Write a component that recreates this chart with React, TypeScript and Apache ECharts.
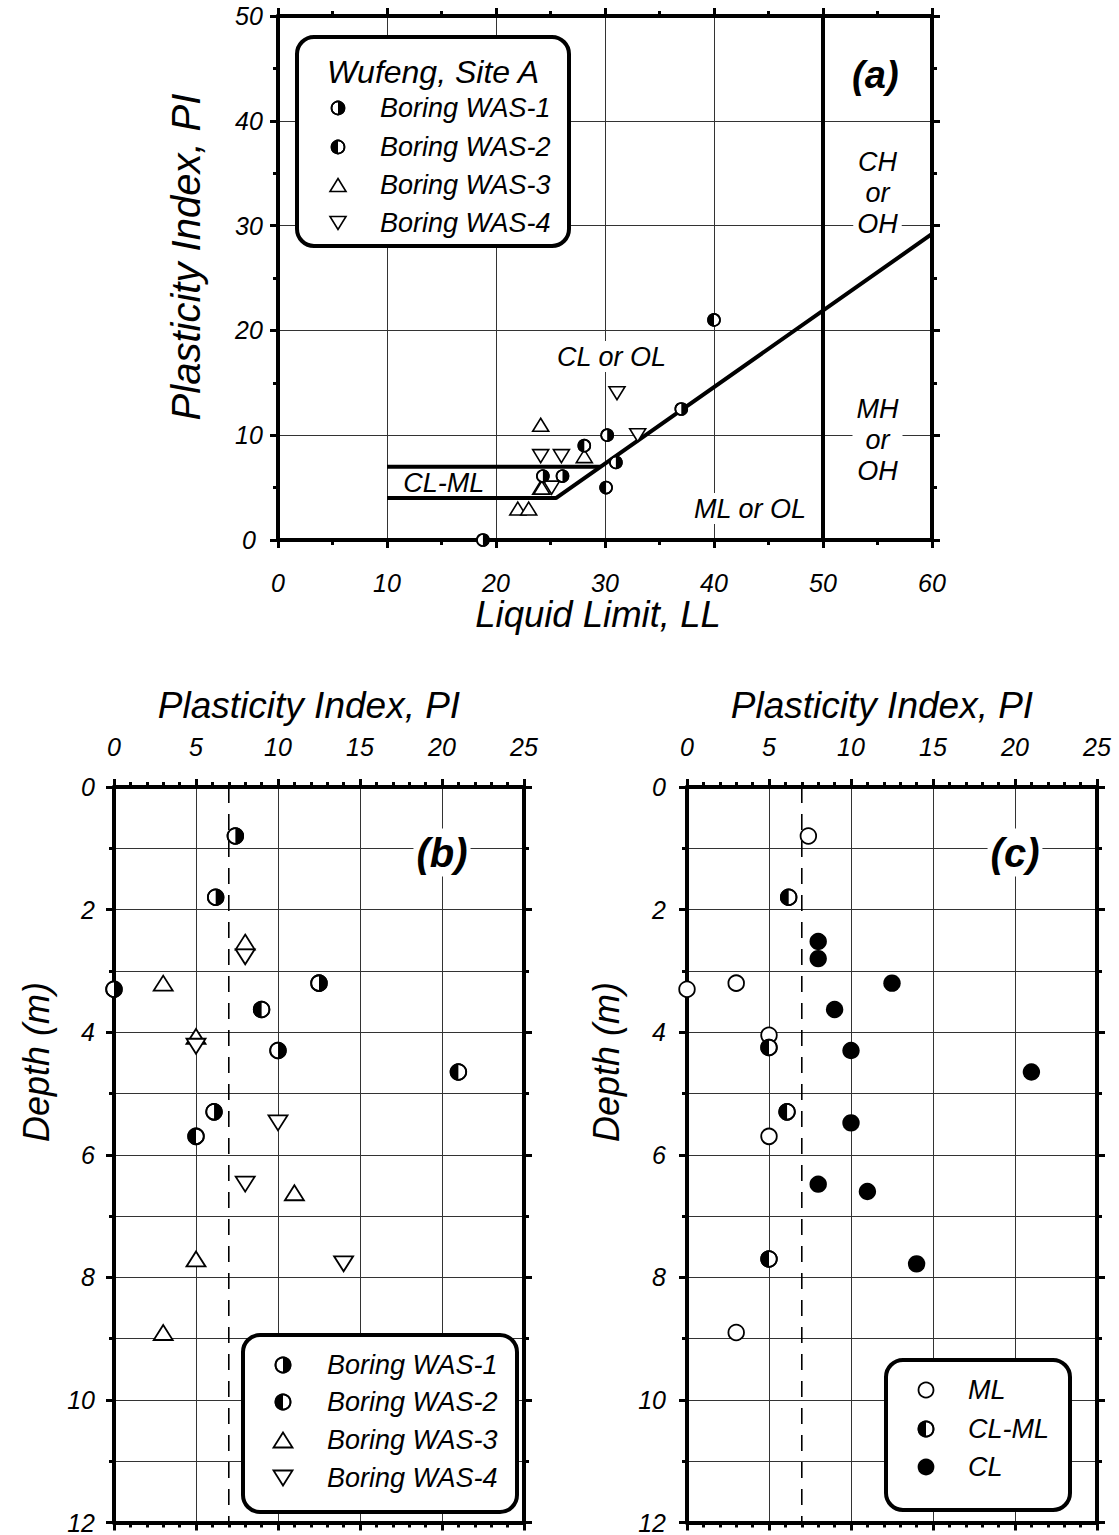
import React, { useEffect, useRef } from 'react';
import * as echarts from 'echarts';

// ---------- DATA ----------
// Panel (a): [Liquid Limit LL, Plasticity Index PI]
const aWas1: number[][] = [[18.8, 0], [31.0, 7.4], [24.3, 6.1], [26.1, 6.1], [37.0, 12.5], [30.2, 10.0]];
const aWas2: number[][] = [[28.1, 9.0], [30.1, 5.0], [40.0, 21.0]];
const aWas3: number[][] = [[24.1, 11.0], [28.1, 8.0], [24.1, 5.0], [24.2, 5.0], [22.0, 3.0], [23.0, 3.0]];
const aWas4: number[][] = [[24.1, 8.0], [26.0, 8.0], [31.1, 14.0], [33.0, 10.0], [25.1, 5.0]];

// Panel (b): [PI, depth (m)]
const bWas1: number[][] = [[7.4, 0.8], [6.2, 1.8], [0, 3.3], [12.5, 3.2], [10, 4.3], [6.1, 5.3]];
const bWas2: number[][] = [[9, 3.63], [21, 4.65], [5, 5.7]];
const bWas3: number[][] = [[8, 2.53], [3, 3.2], [5, 4.07], [11, 6.62], [5, 7.7], [3, 8.9]];
const bWas4: number[][] = [[8, 2.77], [5, 4.23], [10, 5.48], [8, 6.48], [14, 7.78]];

// Panel (c): [PI, depth (m)] by USCS class
const cML: number[][] = [[7.4, 0.8], [0, 3.3], [3, 3.2], [5, 4.05], [5, 5.7], [3, 8.9]];
const cCLML: number[][] = [[6.2, 1.8], [5, 4.25], [6.1, 5.3], [5, 7.7]];
const cCL: number[][] = [[8, 2.52], [8, 2.8], [12.5, 3.2], [9, 3.63], [10, 4.3], [21, 4.65], [10, 5.48], [8, 6.48], [11, 6.6], [14, 7.78]];

// Chart boundary lines (plasticity chart)
const clmlUpper: number[][] = [[10, 7], [29.6, 7]];
const clmlLowerAndALine: number[][] = [[10, 4], [25.5, 4], [60, 29.2]];
const llFifty: number[][] = [[50, 0], [50, 50]];
const piSeven: number[][] = [[7, 0], [7, 12]];

// Axis ranges / ticks
const llTicks = [0, 10, 20, 30, 40, 50, 60];
const piTicksA = [0, 10, 20, 30, 40, 50];
const piTicksB = [0, 5, 10, 15, 20, 25];
const depthTicks = [0, 2, 4, 6, 8, 10, 12];

const boringNames = ['Boring WAS-1', 'Boring WAS-2', 'Boring WAS-3', 'Boring WAS-4'];
const classNames = ['ML', 'CL-ML', 'CL'];

// ---------- STYLE HELPERS ----------
const FONT = '"Liberation Sans", Arial, sans-serif';
const f = (size: number, bold = false) => `italic ${bold ? 'bold ' : ''}${size}px ${FONT}`;

type MS = { r: number; lw: number; tw: number; th: number };
const S_A: MS = { r: 6.0, lw: 1.6, tw: 16, th: 13 };
const S_B: MS = { r: 7.8, lw: 1.8, tw: 19, th: 15 };

function markerEls(kind: string, x: number, y: number, s: MS): any[] {
  const ring = { type: 'circle', shape: { cx: x, cy: y, r: s.r }, style: { fill: '#fff', stroke: '#000', lineWidth: s.lw } };
  const outline = { type: 'circle', shape: { cx: x, cy: y, r: s.r }, style: { fill: 'none', stroke: '#000', lineWidth: s.lw } };
  if (kind === 'open') return [ring];
  if (kind === 'filled') return [{ type: 'circle', shape: { cx: x, cy: y, r: s.r + s.lw / 2 }, style: { fill: '#000' } }];
  if (kind === 'halfRight' || kind === 'halfLeft') {
    const a0 = kind === 'halfRight' ? -Math.PI / 2 : Math.PI / 2;
    return [
      ring,
      { type: 'sector', shape: { cx: x, cy: y, r0: 0, r: s.r, startAngle: a0, endAngle: a0 + Math.PI, clockwise: true }, style: { fill: '#000' } },
      outline,
    ];
  }
  const hw = s.tw / 2, hh = s.th / 2;
  const pts = kind === 'triUp'
    ? [[x, y - hh], [x + hw, y + hh], [x - hw, y + hh]]
    : [[x - hw, y - hh], [x + hw, y - hh], [x, y + hh]];
  return [{ type: 'polygon', shape: { points: pts }, style: { fill: '#fff', stroke: '#000', lineWidth: s.lw, lineJoin: 'miter' } }];
}

// axis: index of the x/y axis pair that carries the data of the panel
function markerSeries(name: string, data: number[][], kind: string, axis: number, s: MS) {
  return {
    type: 'custom', name, xAxisIndex: axis, yAxisIndex: axis, data, z: 10, clip: false, silent: true,
    encode: { x: 0, y: 1 },
    renderItem: (_p: any, api: any) => {
      const pt = api.coord([api.value(0), api.value(1)]);
      return { type: 'group', children: markerEls(kind, pt[0], pt[1], s) };
    },
  };
}

type Ann = { x: number; y: number; text: string; font: string; bg: boolean; lh?: number; pad?: number[] };
function textSeries(axis: number, items: Ann[]) {
  return {
    type: 'custom', xAxisIndex: axis, yAxisIndex: axis, z: 8, clip: false, silent: true,
    data: items.map((it) => [it.x, it.y]),
    encode: { x: 0, y: 1 },
    renderItem: (params: any, api: any) => {
      const it = items[params.dataIndex];
      const pt = api.coord([api.value(0), api.value(1)]);
      const style: any = {
        text: it.text, font: it.font, fill: '#000',
        align: 'center', verticalAlign: 'middle', textAlign: 'center', textVerticalAlign: 'middle',
      };
      if (it.lh) style.lineHeight = it.lh;
      if (it.bg) { style.backgroundColor = '#fff'; style.padding = it.pad || [2, 4]; }
      return { type: 'text', x: pt[0], y: pt[1], style };
    },
  };
}

function lineSeries(data: number[][], axis: number, width: number, dashed = false) {
  return {
    type: 'line', xAxisIndex: axis, yAxisIndex: axis, data, symbol: 'none', silent: true, z: 3,
    lineStyle: { color: '#000', width, type: dashed ? [16, 11] : 'solid' },
  };
}

const axisLine = { show: true, onZero: false, lineStyle: { color: '#000', width: 4 } };
const tick = { show: true, length: 8, lineStyle: { color: '#000', width: 3 } };
const minor = (n: number) => ({ show: true, splitNumber: n, length: 5, lineStyle: { color: '#000', width: 3 } });
const grid1 = { show: true, lineStyle: { color: '#333', width: 1 } };
const labelStyle = (margin: number, align?: string) => {
  const s: any = { show: true, margin, fontSize: 25, fontStyle: 'italic', fontFamily: FONT, color: '#000' };
  if (align) s.align = align;
  return s;
};
const rng = (t: number[]) => ({ min: t[0], max: t[t.length - 1], interval: t[1] - t[0] });

function valueAxis(gridIndex: number, position: string, ticks: number[], minorN: number, label: any, split: boolean, extra: any = {}) {
  return {
    type: 'value', gridIndex, position, ...rng(ticks),
    axisLine, axisTick: tick, minorTick: minor(minorN),
    axisLabel: label || { show: false },
    splitLine: split ? grid1 : { show: false },
    ...extra,
  };
}

function legendBox(x: number, y: number, w: number, h: number) {
  return { type: 'rect', z: 100, shape: { x, y, width: w, height: h, r: 17 }, style: { fill: '#fff', stroke: '#000', lineWidth: 4 } };
}
function gText(x: number, y: number, text: string, font: string, align = 'left', rotation = 0) {
  return {
    type: 'text', z: 102, x, y, rotation,
    style: { text, font, fill: '#000', align, verticalAlign: 'middle', textAlign: align, textVerticalAlign: 'middle' },
  };
}
function gMarker(kind: string, x: number, y: number, s: MS) {
  return markerEls(kind, x, y, s).map((e) => ({ ...e, z: 101 }));
}

// axis indices: panel (a) -> 0, panel (b) -> 2, panel (c) -> 4
const AX_A = 0, AX_B = 2, AX_C = 4;

function buildOption() {
  const kindsBoring = ['halfRight', 'halfLeft', 'triUp', 'triDown'];
  const graphics: any[] = [];

  // axis titles
  graphics.push(gText(598, 614, 'Liquid Limit, LL', f(36.5), 'center'));
  graphics.push(gText(186, 257, 'Plasticity Index, PI', f(40), 'center', Math.PI / 2));
  graphics.push(gText(309, 705, 'Plasticity Index, PI', f(37), 'center'));
  graphics.push(gText(882, 705, 'Plasticity Index, PI', f(37), 'center'));
  graphics.push(gText(36, 1062, 'Depth (m)', f(36), 'center', Math.PI / 2));
  graphics.push(gText(606, 1062, 'Depth (m)', f(36), 'center', Math.PI / 2));

  // legend (a)
  graphics.push(legendBox(297, 37, 272, 209));
  graphics.push(gText(433, 72, 'Wufeng, Site A', f(32), 'center'));
  const rowsA = [108, 147, 185, 223];
  boringNames.forEach((n, i) => {
    graphics.push(...gMarker(kindsBoring[i], 338, rowsA[i], { r: 6.5, lw: 1.6, tw: 16, th: 13 }));
    graphics.push(gText(380, rowsA[i], n, f(27)));
  });

  // legend (b)
  graphics.push(legendBox(243, 1335, 274, 177));
  const rowsB = [1365, 1402, 1440, 1478];
  boringNames.forEach((n, i) => {
    graphics.push(...gMarker(kindsBoring[i], 283, rowsB[i], { r: 7.5, lw: 1.8, tw: 19, th: 15 }));
    graphics.push(gText(327, rowsB[i], n, f(27)));
  });

  // legend (c)
  graphics.push(legendBox(886, 1360, 184, 150));
  const rowsC = [1390, 1429, 1467];
  const kindsC = ['open', 'halfLeft', 'filled'];
  classNames.forEach((n, i) => {
    graphics.push(...gMarker(kindsC[i], 926, rowsC[i], { r: 7.5, lw: 1.8, tw: 19, th: 15 }));
    graphics.push(gText(968, rowsC[i], n, f(27)));
  });

  return {
    animation: false,
    backgroundColor: '#fff',
    grid: [
      { left: 278, top: 16, width: 654, height: 524 },
      { left: 114, top: 787, width: 410, height: 737 },
      { left: 687, top: 787, width: 410, height: 737 },
    ],
    xAxis: [
      valueAxis(0, 'bottom', llTicks, 2, labelStyle(30), true),
      valueAxis(0, 'top', llTicks, 2, null, false),
      valueAxis(1, 'top', piTicksB, 5, labelStyle(28), true),
      valueAxis(1, 'bottom', piTicksB, 5, null, false),
      valueAxis(2, 'top', piTicksB, 5, labelStyle(28), true),
      valueAxis(2, 'bottom', piTicksB, 5, null, false),
    ],
    yAxis: [
      valueAxis(0, 'left', piTicksA, 2, labelStyle(29, 'center'), true),
      valueAxis(0, 'right', piTicksA, 2, null, false),
      valueAxis(1, 'left', depthTicks, 2, labelStyle(19), true, { inverse: true, minorSplitLine: grid1 }),
      valueAxis(1, 'right', depthTicks, 2, null, false, { inverse: true }),
      valueAxis(2, 'left', depthTicks, 2, labelStyle(21), true, { inverse: true, minorSplitLine: grid1 }),
      valueAxis(2, 'right', depthTicks, 2, null, false, { inverse: true }),
    ],
    graphic: { elements: graphics },
    series: [
      // panel (a)
      lineSeries(clmlUpper, AX_A, 4),
      lineSeries(clmlLowerAndALine, AX_A, 4),
      lineSeries(llFifty, AX_A, 4),
      textSeries(AX_A, [
        { x: 30.6, y: 17.5, text: 'CL or OL', font: f(27), bg: true },
        { x: 43.3, y: 3.0, text: 'ML or OL', font: f(27), bg: true },
        { x: 55.0, y: 33.1, text: 'CH\nor\nOH', font: f(27), bg: true, lh: 31 },
        { x: 55.0, y: 9.5, text: 'MH\nor\nOH', font: f(27), bg: true, lh: 31 },
        { x: 15.2, y: 5.4, text: 'CL-ML', font: f(27), bg: false },
        { x: 54.8, y: 44.4, text: '(a)', font: f(38, true), bg: false },
      ]),
      markerSeries(boringNames[2], aWas3, 'triUp', AX_A, S_A),
      markerSeries(boringNames[3], aWas4, 'triDown', AX_A, S_A),
      markerSeries(boringNames[0], aWas1, 'halfRight', AX_A, S_A),
      markerSeries(boringNames[1], aWas2, 'halfLeft', AX_A, S_A),
      // panel (b)
      lineSeries(piSeven, AX_B, 1.6, true),
      textSeries(AX_B, [{ x: 20, y: 1.07, text: '(b)', font: f(40, true), bg: true, pad: [4, 3] }]),
      markerSeries(boringNames[2], bWas3, 'triUp', AX_B, S_B),
      markerSeries(boringNames[3], bWas4, 'triDown', AX_B, S_B),
      markerSeries(boringNames[0], bWas1, 'halfRight', AX_B, S_B),
      markerSeries(boringNames[1], bWas2, 'halfLeft', AX_B, S_B),
      // panel (c)
      lineSeries(piSeven, AX_C, 1.6, true),
      textSeries(AX_C, [{ x: 20, y: 1.07, text: '(c)', font: f(40, true), bg: true, pad: [4, 3] }]),
      markerSeries(classNames[0], cML, 'open', AX_C, S_B),
      markerSeries(classNames[1], cCLML, 'halfLeft', AX_C, S_B),
      markerSeries(classNames[2], cCL, 'filled', AX_C, S_B),
    ],
  };
}

export default function App() {
  const ref = useRef<HTMLDivElement>(null);
  useEffect(() => {
    document.body.style.margin = '0';
    const chart = echarts.init(ref.current as HTMLDivElement, null, { renderer: 'svg' });
    chart.setOption(buildOption() as any);
    return () => chart.dispose();
  }, []);
  return <div ref={ref} style={{ width: 1119, height: 1535 }} />;
}
